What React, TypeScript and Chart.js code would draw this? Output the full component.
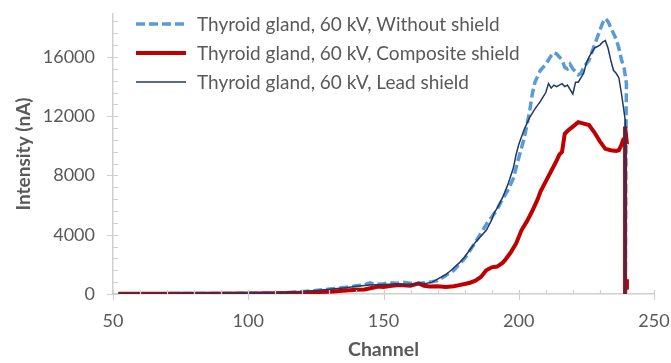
import React, { useEffect, useRef } from "react";
import { Chart, registerables } from "chart.js";

Chart.register(...registerables);

const seriesLabels = [
  "Thyroid gland, 60 kV, Without shield",
  "Thyroid gland, 60 kV, Composite shield",
  "Thyroid gland, 60 kV, Lead shield",
];

const withoutCh = [52, 60, 70, 80, 90, 100, 110, 118, 124, 130, 136, 140, 143, 145, 147, 150, 152, 155, 157, 160, 163, 165, 168, 170, 173, 176, 178, 180, 182, 184, 186, 188, 190, 192, 194, 196, 198, 200, 202, 204, 205, 206, 208, 210, 212, 213, 214, 216, 217, 218, 219, 220, 222, 223, 224, 226, 228, 230, 231, 232, 233, 234, 236, 237, 238, 239, 239.8, 239.7, 239.4];
const withoutVal = [20, 20, 25, 30, 35, 45, 70, 130, 220, 330, 450, 560, 620, 750, 640, 700, 760, 720, 800, 720, 690, 760, 830, 900, 1250, 1600, 2000, 2400, 2950, 3500, 4100, 4700, 5200, 5700, 6400, 7000, 7800, 9200, 10500, 12300, 13500, 14300, 15100, 15500, 16100, 16300, 16200, 15800, 15300, 15200, 15500, 15200, 14800, 14900, 15300, 15800, 16800, 17800, 18300, 18600, 18400, 18000, 17200, 16600, 15800, 15200, 14200, 12000, 0];

const compositeCh = [52, 60, 80, 100, 110, 120, 125, 130, 135, 140, 143, 146, 148, 150, 153, 156, 160, 163, 165, 167, 170, 173, 176, 178, 180, 182, 184, 186, 188, 190, 192, 194, 195, 197, 199, 201, 203, 205, 207, 208, 210, 212, 214, 215, 216, 217, 218, 220, 222, 224, 226, 228, 230, 232, 234, 236, 237, 237.8, 238.6, 239.9, 239.3, 239.3, 239.9, 240];
const compositeVal = [20, 20, 25, 35, 45, 90, 130, 160, 220, 280, 300, 420, 500, 480, 560, 600, 560, 720, 560, 500, 520, 480, 520, 600, 680, 760, 900, 1150, 1600, 1800, 1850, 2100, 2300, 2800, 3400, 4300, 4900, 5600, 6400, 6900, 7600, 8300, 9000, 9400, 9600, 10800, 11000, 11300, 11600, 11500, 11400, 10900, 10300, 9800, 9700, 9650, 9700, 10000, 10400, 10300, 11300, 0, 1000, 300];

const leadCh = [52, 60, 70, 80, 90, 100, 110, 118, 124, 130, 136, 140, 145, 150, 155, 158, 160, 163, 166, 168, 170, 173, 175, 178, 180, 182, 184, 186, 188, 190, 191, 192, 194, 196, 198, 199, 200, 201, 202, 203, 204, 206, 208, 209, 210, 211, 212, 213, 214, 216, 217, 218, 219, 220, 221, 222, 223, 224, 225, 226, 228, 230, 231, 232, 233, 234, 235, 236, 237, 238, 238.7, 239.3, 239.4];
const leadVal = [20, 20, 25, 30, 35, 45, 70, 130, 220, 320, 430, 520, 600, 640, 680, 620, 650, 700, 720, 800, 1000, 1300, 1600, 2100, 2500, 3000, 3500, 3900, 4300, 5000, 5500, 5800, 6500, 7400, 8500, 9400, 10100, 10600, 11100, 11500, 11900, 12500, 13000, 13300, 13600, 14200, 13900, 14100, 14000, 14200, 14000, 14100, 13800, 13500, 14300, 14300, 14600, 14900, 15600, 16000, 16600, 16800, 17000, 17100, 16600, 15800, 15100, 14900, 14600, 13500, 12600, 11800, 0];

const xTicks = [50, 100, 150, 200, 250];
const yTicks = [0, 4000, 8000, 12000, 16000];

const seriesColors = ["#5B9BD5", "#C00000", "#1F3864"];
const seriesWidths = [3.5, 4, 1.5];
const seriesDash = [[9, 4], [], []];

const FONT = "Lato, 'Open Sans', sans-serif";
const TEXT = "#595959";
const AXIS = "#D0D0D0";

function toPoints(ch: number[], val: number[]) {
  return ch.map((c, i) => ({ x: c, y: val[i] }));
}

const minorTicksPlugin = {
  id: "minorTicks",
  afterDraw(chart: any) {
    const ctx = chart.ctx;
    const xs = chart.scales.x;
    const ys = chart.scales.y;
    const bottom = chart.chartArea.bottom;
    const left = chart.chartArea.left;
    ctx.save();
    ctx.strokeStyle = AXIS;
    ctx.lineWidth = 1.2;
    ctx.beginPath();
    for (let v = xs.min; v <= xs.max + 1e-6; v += 10) {
      const px = Math.round(xs.getPixelForValue(v)) + 0.5;
      const major = xTicks.includes(v);
      ctx.moveTo(px, bottom - 4);
      ctx.lineTo(px, bottom + (major ? 6 : 0));
    }
    for (let v = 0; v <= ys.max; v += 800) {
      const py = Math.round(ys.getPixelForValue(v)) + 0.5;
      const major = yTicks.includes(v);
      ctx.moveTo(left - (major ? 6 : 0), py);
      ctx.lineTo(left + 5, py);
    }
    ctx.stroke();
    ctx.restore();
  },
};

const legendPlugin = {
  id: "insideLegend",
  afterDraw(chart: any) {
    const ctx = chart.ctx;
    const rows = [24, 53, 82];
    ctx.save();
    chart.data.datasets.forEach((ds: any, i: number) => {
      const y = rows[i];
      ctx.beginPath();
      ctx.strokeStyle = ds.borderColor;
      ctx.lineWidth = ds.borderWidth;
      ctx.setLineDash(ds.borderDash || []);
      ctx.moveTo(136, y);
      ctx.lineTo(186, y);
      ctx.stroke();
      ctx.setLineDash([]);
      ctx.fillStyle = TEXT;
      ctx.font = `19px ${FONT}`;
      ctx.textBaseline = "middle";
      ctx.textAlign = "left";
      ctx.fillText(ds.label, 197, y + 1);
    });
    ctx.restore();
  },
};

export default function App() {
  const ref = useRef<HTMLCanvasElement | null>(null);

  useEffect(() => {
    if (!ref.current) return;
    const pts = [
      toPoints(withoutCh, withoutVal),
      toPoints(compositeCh, compositeVal),
      toPoints(leadCh, leadVal),
    ];
    const chart = new Chart(ref.current, {
      type: "line",
      data: {
        datasets: pts.map((p, i) => ({
          label: seriesLabels[i],
          data: p,
          borderColor: seriesColors[i],
          backgroundColor: seriesColors[i],
          borderWidth: seriesWidths[i],
          borderDash: seriesDash[i],
          pointRadius: 0,
          tension: 0,
          fill: false,
          order: 3 - i,
        })),
      },
      options: {
        animation: false,
        responsive: false,
        layout: { padding: { left: 0, right: 17, top: 14, bottom: 0 } },
        plugins: { legend: { display: false }, tooltip: { enabled: false } },
        scales: {
          x: {
            type: "linear",
            min: 50,
            max: 250,
            grid: { display: false, drawTicks: false },
            border: { display: true, color: AXIS, width: 1.5 },
            afterBuildTicks(scale: any) {
              scale.ticks = xTicks.map((v) => ({ value: v }));
            },
            ticks: {
              padding: 16,
              color: TEXT,
              font: { family: FONT, size: 18 },
              maxRotation: 0,
              autoSkip: false,
              callback: (v: any) => String(v),
            },
            title: {
              display: true,
              text: "Channel",
              color: TEXT,
              font: { family: FONT, size: 19.5, weight: "bold" },
              padding: { top: 0, bottom: 2 },
            },
            afterFit(scale: any) {
              scale.height = 69;
              scale.paddingLeft = 0;
              scale.paddingRight = 0;
            },
          },
          y: {
            type: "linear",
            min: 0,
            max: 18900,
            grid: { display: false, drawTicks: false },
            border: { display: true, color: AXIS, width: 1.5 },
            afterBuildTicks(scale: any) {
              scale.ticks = yTicks.map((v) => ({ value: v }));
            },
            ticks: {
              padding: 18,
              color: TEXT,
              font: { family: FONT, size: 18 },
              autoSkip: false,
              callback: (v: any) => String(v),
            },
            title: {
              display: true,
              text: "Intensity (nA)",
              color: TEXT,
              font: { family: FONT, size: 19, weight: "bold" },
              padding: { top: 12, bottom: 0 },
            },
            afterFit(scale: any) {
              scale.width = 113;
              scale.paddingTop = 0;
              scale.paddingBottom = 0;
            },
          },
        },
      },
      plugins: [minorTicksPlugin, legendPlugin],
    } as any);
    return () => chart.destroy();
  }, []);

  return (
    <div style={{ position: "absolute", left: 0, top: 0, width: 671, height: 363, background: "#fff" }}>
      <canvas ref={ref} width={671} height={363} />
    </div>
  );
}
